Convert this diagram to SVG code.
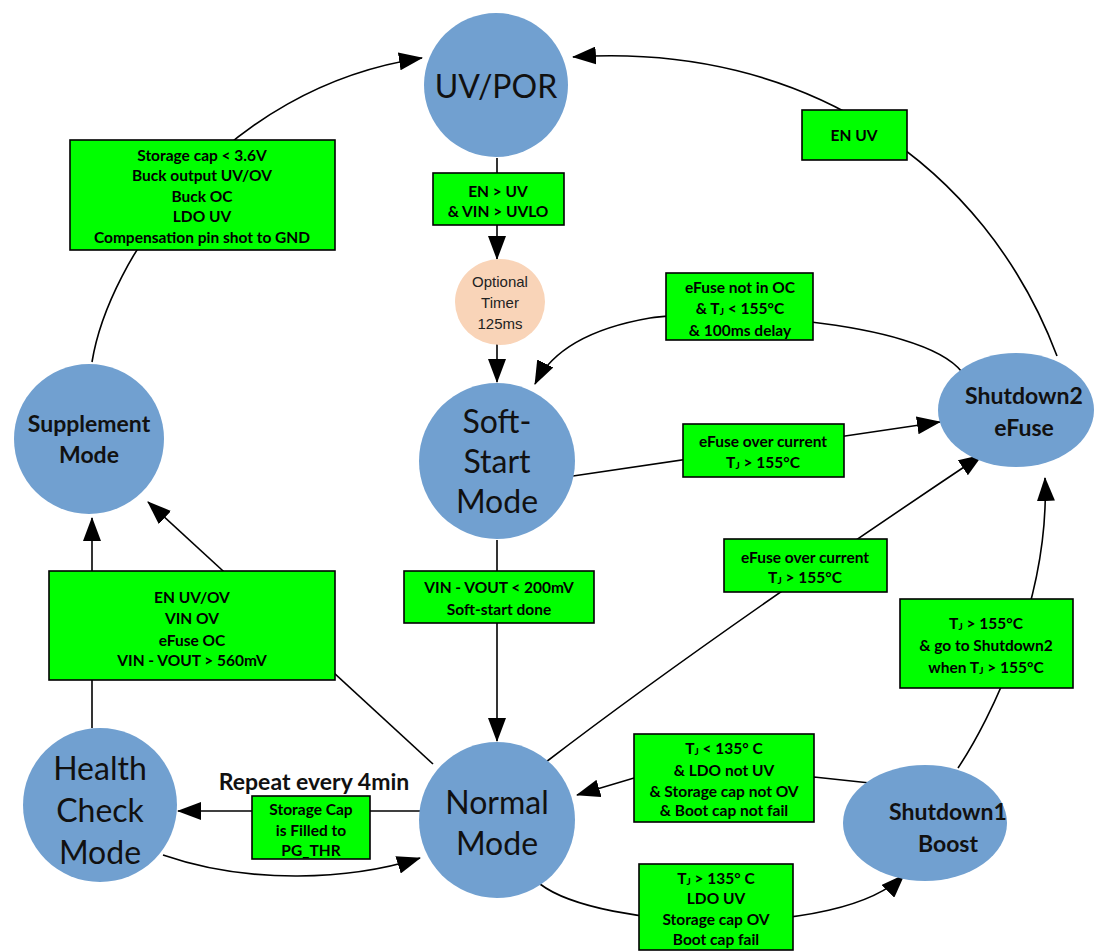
<svg xmlns="http://www.w3.org/2000/svg" width="1100" height="952" viewBox="0 0 1100 952">
<defs>
<marker id="arr" viewBox="0 0 24 18" refX="23" refY="9" markerWidth="24" markerHeight="18" markerUnits="userSpaceOnUse" orient="auto">
<path d="M0,0 L24,9 L0,18 Z" fill="#000"/>
</marker>
</defs>
<style>
.st{fill:#71a0d0;stroke:none}
.tm{fill:#f9d4b8;stroke:none}
.bx{fill:#00ff00;stroke:#000;stroke-width:1.6}
.ln{fill:none;stroke:#000;stroke-width:1.6}
.ar{marker-end:url(#arr)}
.lb{font-family:Lato,"Open Sans",sans-serif;font-weight:700;font-size:15.5px;fill:#000;text-anchor:middle;dominant-baseline:central}
.big{font-family:Lato,"Open Sans",sans-serif;font-size:32px;fill:#111;text-anchor:middle;dominant-baseline:central}
.bold{font-family:Lato,"Open Sans",sans-serif;font-weight:700;font-size:23px;fill:#111;text-anchor:middle;dominant-baseline:central}
.tt{font-family:"Liberation Sans",Arial,sans-serif;font-size:15px;fill:#222;text-anchor:middle;dominant-baseline:central}
.sub{font-size:10px}
</style>
<rect width="1100" height="952" fill="#fff"/>
<g id="connectors">
<path class="ln ar" d="M92,362 C108,262 220,88 422,58"/>
<path class="ln ar" d="M1057,356 C985,165 805,42 573,57"/>
<path class="ln" d="M497,158 L497,174"/>
<path class="ln ar" d="M497,225 L497,259"/>
<path class="ln ar" d="M497,344 L497,382"/>
<path class="ln ar" d="M962,372 C920,318 700,310 650,318 C592,328 552,350 535,384"/>
<path class="ln ar" d="M573,476 L940,422"/>
<path class="ln" d="M497,540 L497,572"/>
<path class="ln ar" d="M497,622 L497,741"/>
<path class="ln ar" d="M546,762 C640,690 780,590 982,455"/>
<path class="ln ar" d="M958,768 C990,720 1050,600 1045,478"/>
<path class="ln ar" d="M433,764 L148,502"/>
<path class="ln ar" d="M92,728 L92,518"/>
<path class="ln ar" d="M163,855 C250,885 350,880 420,858"/>
<path class="ln ar" d="M420,811 L178,811"/>
<path class="ln ar" d="M870,783 L814,777 L634,778 L577,795"/>
<path class="ln ar" d="M540,884 C600,930 840,940 904,875"/>
</g>
<g id="uvpor"><circle class="st" cx="496" cy="85" r="72"/><text class="big" x="496" y="85" font-size="34">UV/POR</text></g>
<g id="timer"><ellipse class="tm" cx="500" cy="302" rx="45" ry="43"/><text class="tt" x="500" y="281">Optional</text><text class="tt" x="500" y="302">Timer</text><text class="tt" x="500" y="323">125ms</text></g>
<g id="softstart"><circle class="st" cx="497" cy="461" r="78"/><text class="big" x="497" y="420">Soft-</text><text class="big" x="497" y="460">Start</text><text class="big" x="497" y="500">Mode</text></g>
<g id="shutdown2"><ellipse class="st" cx="1016" cy="410" rx="78" ry="57"/><text class="bold" x="1024" y="395">Shutdown2</text><text class="bold" x="1024" y="427">eFuse</text></g>
<g id="supplement"><circle class="st" cx="89" cy="439" r="75"/><text class="bold" x="89" y="423">Supplement</text><text class="bold" x="89" y="454">Mode</text></g>
<g id="health"><circle class="st" cx="100" cy="805" r="77"/><text class="big" x="100" y="767" font-size="30">Health</text><text class="big" x="100" y="809" font-size="30">Check</text><text class="big" x="100" y="851" font-size="30">Mode</text></g>
<g id="normal"><circle class="st" cx="497" cy="820" r="78"/><text class="big" x="497" y="801" font-size="30">Normal</text><text class="big" x="497" y="842" font-size="30">Mode</text></g>
<g id="shutdown1"><ellipse class="st" cx="925" cy="823" rx="82" ry="58"/><text class="bold" x="948" y="811">Shutdown1</text><text class="bold" x="948" y="843">Boost</text></g>
<g id="box-supp-uv"><rect class="bx" x="70" y="140" width="265" height="110"/>
<text class="lb" x="202" y="155">Storage cap &lt; 3.6V</text><text class="lb" x="202" y="175">Buck output UV/OV</text><text class="lb" x="202" y="196">Buck OC</text><text class="lb" x="202" y="216">LDO UV</text><text class="lb" x="202" y="237">Compensation pin shot to GND</text></g>
<g id="box-en"><rect class="bx" x="433" y="173" width="131" height="52"/><text class="lb" x="498" y="191">EN &gt; UV</text><text class="lb" x="498" y="211">&amp; VIN &gt; UVLO</text></g>
<g id="box-notoc"><rect class="bx" x="666" y="273" width="147" height="67"/><text class="lb" x="740" y="287">eFuse not in OC</text><text class="lb" x="740" y="308">&amp; T<tspan class="sub" dy="3">J</tspan><tspan dy="-3"> &lt; 155°C</tspan></text><text class="lb" x="740" y="330">&amp; 100ms delay</text></g>
<g id="box-oc1"><rect class="bx" x="683" y="424" width="161" height="53"/><text class="lb" x="763" y="441">eFuse over current</text><text class="lb" x="763" y="462">T<tspan class="sub" dy="3">J</tspan><tspan dy="-3"> &gt; 155°C</tspan></text></g>
<g id="box-oc2"><rect class="bx" x="724" y="539" width="163" height="53"/><text class="lb" x="805" y="557">eFuse over current</text><text class="lb" x="805" y="577">T<tspan class="sub" dy="3">J</tspan><tspan dy="-3"> &gt; 155°C</tspan></text></g>
<g id="box-sd1-sd2"><rect class="bx" x="900" y="599" width="173" height="89"/><text class="lb" x="986" y="623">T<tspan class="sub" dy="3">J</tspan><tspan dy="-3"> &gt; 155°C</tspan></text><text class="lb" x="986" y="645">&amp;  go to Shutdown2</text><text class="lb" x="986" y="667">when T<tspan class="sub" dy="3">J</tspan><tspan dy="-3"> &gt; 155°C</tspan></text></g>
<g id="box-enuv"><rect class="bx" x="802" y="110" width="105" height="50"/><text class="lb" x="854" y="135">EN UV</text></g>
<g id="box-supp"><rect class="bx" x="49" y="571" width="286" height="109"/><text class="lb" x="192" y="597">EN UV/OV</text><text class="lb" x="192" y="618">VIN OV</text><text class="lb" x="192" y="640">eFuse OC</text><text class="lb" x="192" y="660">VIN - VOUT &gt; 560mV</text></g>
<g id="box-ssdone"><rect class="bx" x="404" y="571" width="190" height="52"/><text class="lb" x="499" y="587">VIN - VOUT &lt; 200mV</text><text class="lb" x="499" y="609">Soft-start done</text></g>
<g id="box-storage"><rect class="bx" x="252" y="796" width="118" height="63"/><text class="lb" x="311" y="809">Storage Cap</text><text class="lb" x="311" y="830">is Filled to</text><text class="lb" x="311" y="850">PG_THR</text></g>
<text class="bold" x="314" y="781">Repeat every 4min</text>
<g id="box-tjlt"><rect class="bx" x="634" y="734" width="180" height="88"/><text class="lb" x="724" y="748">T<tspan class="sub" dy="3">J</tspan><tspan dy="-3"> &lt; 135° C</tspan></text><text class="lb" x="724" y="770">&amp; LDO not UV</text><text class="lb" x="724" y="791">&amp; Storage cap not OV</text><text class="lb" x="724" y="810">&amp; Boot cap not fail</text></g>
<g id="box-tjgt"><rect class="bx" x="639" y="864" width="154" height="86"/><text class="lb" x="716" y="878">T<tspan class="sub" dy="3">J</tspan><tspan dy="-3"> &gt; 135° C</tspan></text><text class="lb" x="716" y="898">LDO  UV</text><text class="lb" x="716" y="919">Storage cap OV</text><text class="lb" x="716" y="939">Boot cap fail</text></g>
</svg>
